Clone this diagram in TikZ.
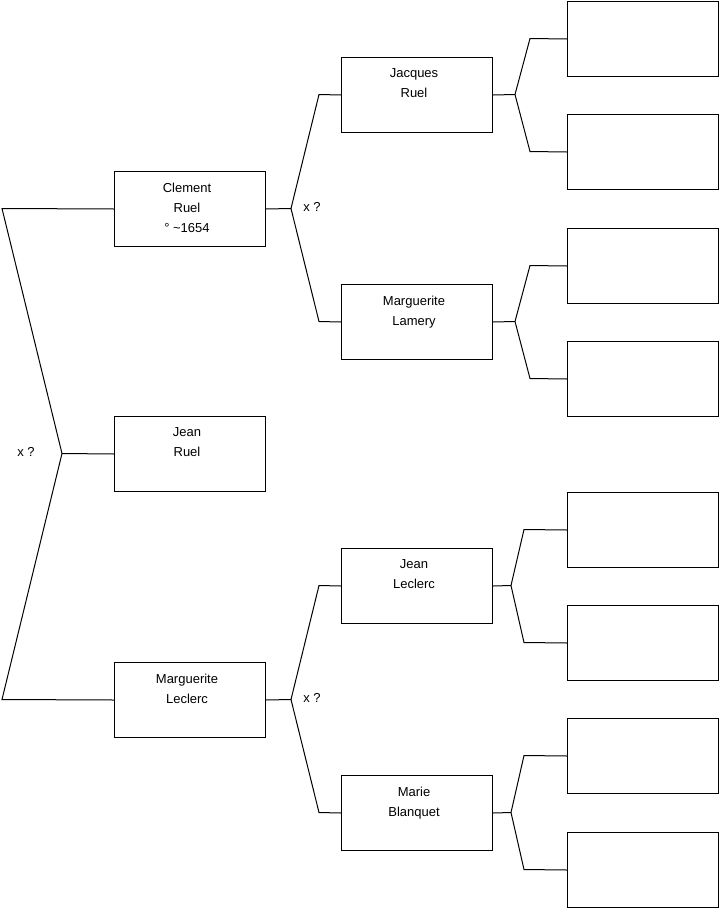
\documentclass[tikz,border=0pt]{standalone}
\usepackage{fontspec}
\setmainfont{Liberation Sans}
\begin{document}
\begin{tikzpicture}[x=1pt,y=-1pt,
  line width=1pt,
  pbox/.style={draw=black, line width=1pt, minimum width=151pt, minimum height=75pt, inner sep=0pt, anchor=north west},
  ptext/.style={anchor=north, align=center, inner sep=0pt, font=\fontsize{13}{20}\selectfont},
  qlab/.style={anchor=center, inner sep=0pt, font=\fontsize{13}{20}\selectfont}]
\useasboundingbox (0,0) rectangle (719,908);
% boxes
\node[pbox] (cr) at (114,171) {};
\node[pbox] (jr) at (114,416) {};
\node[pbox] (ml) at (114,662) {};
\node[pbox] (jq) at (341,57) {};
\node[pbox] (la) at (341,284) {};
\node[pbox] (jl) at (341,548) {};
\node[pbox] (mb) at (341,775) {};
\node[pbox] (r1) at (567,1) {};
\node[pbox] (r2) at (567,114) {};
\node[pbox] (r3) at (567,228) {};
\node[pbox] (r4) at (567,341) {};
\node[pbox] (r5) at (567,492) {};
\node[pbox] (r6) at (567,605) {};
\node[pbox] (r7) at (567,718) {};
\node[pbox] (r8) at (567,832) {};
% texts
\node[ptext] (tcr) at ([xshift=-3pt,yshift=-11.5pt]cr.north) {Clement\\Ruel\\° \textasciitilde1654};
\node[ptext] (tjr) at ([xshift=-3pt,yshift=-11.5pt]jr.north) {Jean\\Ruel};
\node[ptext] (tml) at ([xshift=-3pt,yshift=-11.5pt]ml.north) {Marguerite\\Leclerc};
\node[ptext] (tjq) at ([xshift=-3pt,yshift=-11.5pt]jq.north) {Jacques\\Ruel};
\node[ptext] (tla) at ([xshift=-3pt,yshift=-11.5pt]la.north) {Marguerite\\Lamery};
\node[ptext] (tjl) at ([xshift=-3pt,yshift=-11.5pt]jl.north) {Jean\\Leclerc};
\node[ptext] (tmb) at ([xshift=-3pt,yshift=-11.5pt]mb.north) {Marie\\Blanquet};
% junctions
\coordinate (a1) at (2,208.5);
\coordinate (a2) at (62,453.5);
\coordinate (a3) at (2,699.5);
\coordinate (b0) at (291,208.5);
\coordinate (b1) at (319,94.5);
\coordinate (b2) at (319,321.5);
\coordinate (e0) at (291,699.5);
\coordinate (e1) at (319,585.5);
\coordinate (e2) at (319,812.5);
\coordinate (c0) at (515,94.5);
\coordinate (c1) at (530,38.5);
\coordinate (c2) at (530,151.5);
\coordinate (d0) at (515,321.5);
\coordinate (d1) at (530,265.5);
\coordinate (d2) at (530,378.5);
\coordinate (f0) at (511,585.5);
\coordinate (f1) at (524,529.5);
\coordinate (f2) at (524,642.5);
\coordinate (g0) at (511,812.5);
\coordinate (g1) at (524,755.5);
\coordinate (g2) at (524,869.5);
% connectors
\draw (cr.west) -- (a1) -- (a2) -- (a3) -- (ml.west);
\draw (a2) -- (jr.west);
\draw (cr.east) -- (b0);
\draw (b0) -- (b1) -- (jq.west);
\draw (b0) -- (b2) -- (la.west);
\draw (ml.east) -- (e0);
\draw (e0) -- (e1) -- (jl.west);
\draw (e0) -- (e2) -- (mb.west);
\draw (jq.east) -- (c0);
\draw (c0) -- (c1) -- (r1.west);
\draw (c0) -- (c2) -- (r2.west);
\draw (la.east) -- (d0);
\draw (d0) -- (d1) -- (r3.west);
\draw (d0) -- (d2) -- (r4.west);
\draw (jl.east) -- (f0);
\draw (f0) -- (f1) -- (r5.west);
\draw (f0) -- (f2) -- (r6.west);
\draw (mb.east) -- (g0);
\draw (g0) -- (g1) -- (r7.west);
\draw (g0) -- (g2) -- (r8.west);
% labels
\node[qlab] (q1) at (26,452) {x ?};
\node[qlab] (q2) at (312,207) {x ?};
\node[qlab] (q3) at (312,698) {x ?};
\end{tikzpicture}
\end{document}
